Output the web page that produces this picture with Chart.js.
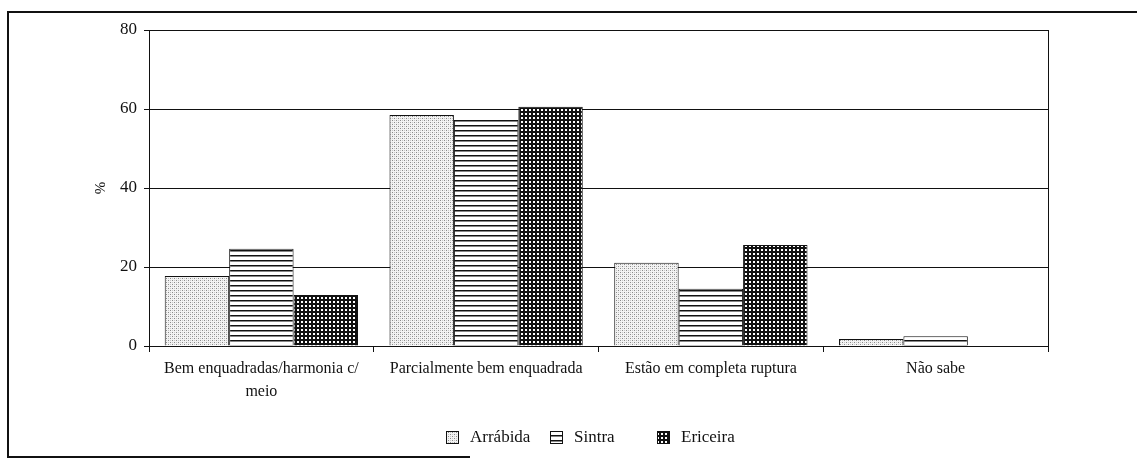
<!DOCTYPE html>
<html>
<head>
<meta charset="utf-8">
<script src="https://cdn.jsdelivr.net/npm/chart.js@4"></script>
<style>
  body { margin: 0; background: #fff; }
  canvas { display: block; }
</style>
</head>
<body>
<canvas id="chart" width="1137" height="459"></canvas>
<script>
// data
var categories = [
    ["Bem enquadradas/harmonia c/", "meio"],
    "Parcialmente bem enquadrada",
    "Estão em completa ruptura",
    "Não sabe"
];
var seriesNames = ["Arrábida", "Sintra", "Ericeira"];
var arrabida = [17.7, 58.5, 21.1, 1.8];
var sintra = [24.6, 57.2, 14.5, 2.5];
var ericeira = [12.9, 60.6, 25.6, 0];
var yTicks = [0, 20, 40, 60, 80];

var serif = "'Liberation Serif', 'Times New Roman', serif";

function makePattern(kind) {
    var c = document.createElement("canvas");
    var ctx = c.getContext("2d");
    if (kind == "dots") {
        c.width = 4; c.height = 4;
        ctx.fillStyle = "#f3f3f3";
        ctx.fillRect(0, 0, 4, 4);
        ctx.fillStyle = "#8a8a8a";
        ctx.fillRect(0, 0, 1, 1);
        ctx.fillRect(2, 2, 1, 1);
        ctx.fillStyle = "#c8c8c8";
        ctx.fillRect(2, 0, 1, 1);
        ctx.fillRect(0, 2, 1, 1);
    } else if (kind == "lines") {
        c.width = 5; c.height = 5;
        ctx.fillStyle = "#fff";
        ctx.fillRect(0, 0, 5, 5);
        ctx.fillStyle = "#111";
        ctx.fillRect(0, 0, 5, 1.5);
    } else {
        c.width = 4; c.height = 4;
        ctx.fillStyle = "#111";
        ctx.fillRect(0, 0, 4, 4);
        ctx.fillStyle = "#fff";
        ctx.fillRect(1, 1, 2, 2);
    }
    return document.getElementById("chart").getContext("2d").createPattern(c, "repeat");
}

var patterns = [makePattern("dots"), makePattern("lines"), makePattern("grid")];

// page frame, right border of the plot and the legend
var framePlugin = {
    id: "frame",
    beforeDraw: function (chart) {
        var ctx = chart.ctx;
        ctx.save();
        ctx.fillStyle = "#fff";
        ctx.fillRect(0, 0, chart.width, chart.height);
        ctx.strokeStyle = "#111";
        ctx.lineWidth = 2;
        ctx.beginPath();
        ctx.moveTo(1137, 12);
        ctx.lineTo(8, 12);
        ctx.lineTo(8, 457);
        ctx.lineTo(470, 457);
        ctx.stroke();
        ctx.restore();
    },
    afterDraw: function (chart) {
        var ctx = chart.ctx;
        var a = chart.chartArea;
        ctx.save();
        ctx.strokeStyle = "#111";
        ctx.lineWidth = 1;
        ctx.beginPath();
        ctx.moveTo(a.right + 0.5, a.top);
        ctx.lineTo(a.right + 0.5, a.bottom + 6);
        ctx.stroke();

        // legend
        var boxX = [446, 550, 657];
        var y = 437;
        ctx.font = "17px " + serif;
        ctx.textBaseline = "middle";
        for (var i = 0; i < seriesNames.length; i++) {
            ctx.fillStyle = patterns[i];
            ctx.fillRect(boxX[i], y - 6, 13, 13);
            ctx.strokeStyle = "#111";
            ctx.strokeRect(boxX[i] + 0.5, y - 5.5, 12, 12);
            ctx.fillStyle = "#111";
            ctx.fillText(seriesNames[i], boxX[i] + 24, y + 1);
        }
        ctx.restore();
    }
};

var datasets = [arrabida, sintra, ericeira].map(function (vals, i) {
    return {
        label: seriesNames[i],
        data: vals,
        backgroundColor: patterns[i],
        borderColor: "#111",
        borderWidth: 1,
        categoryPercentage: 0.86,
        barPercentage: 1.0
    };
});

new Chart("chart", {
    type: "bar",
    data: {
        labels: categories,
        datasets: datasets
    },
    options: {
        responsive: false,
        animation: false,
        layout: { padding: { left: 88, right: 89, top: 30, bottom: 53 } },
        plugins: {
            legend: { display: false },
            tooltip: { enabled: false }
        },
        scales: {
            x: {
                afterFit: function (scale) { scale.height = 60; },
                grid: {
                    drawOnChartArea: false,
                    drawTicks: true,
                    tickLength: 6,
                    offset: true,
                    color: "#111"
                },
                border: { color: "#111", width: 1 },
                ticks: {
                    color: "#111",
                    font: { family: serif, size: 16, lineHeight: 1.4 },
                    padding: 6,
                    maxRotation: 0,
                    autoSkip: false
                }
            },
            y: {
                min: 0,
                max: 80,
                afterFit: function (scale) { scale.width = 61; },
                afterBuildTicks: function (scale) {
                    scale.ticks = yTicks.map(function (v) { return { value: v }; });
                },
                grid: {
                    color: "#111",
                    lineWidth: 1,
                    tickLength: 5
                },
                border: { color: "#111", width: 1 },
                ticks: {
                    color: "#111",
                    font: { family: serif, size: 17 },
                    padding: 7
                },
                title: {
                    display: true,
                    text: "%",
                    color: "#111",
                    font: { family: serif, size: 15 },
                    padding: 4
                }
            }
        }
    },
    plugins: [framePlugin]
});
</script>
</body>
</html>
